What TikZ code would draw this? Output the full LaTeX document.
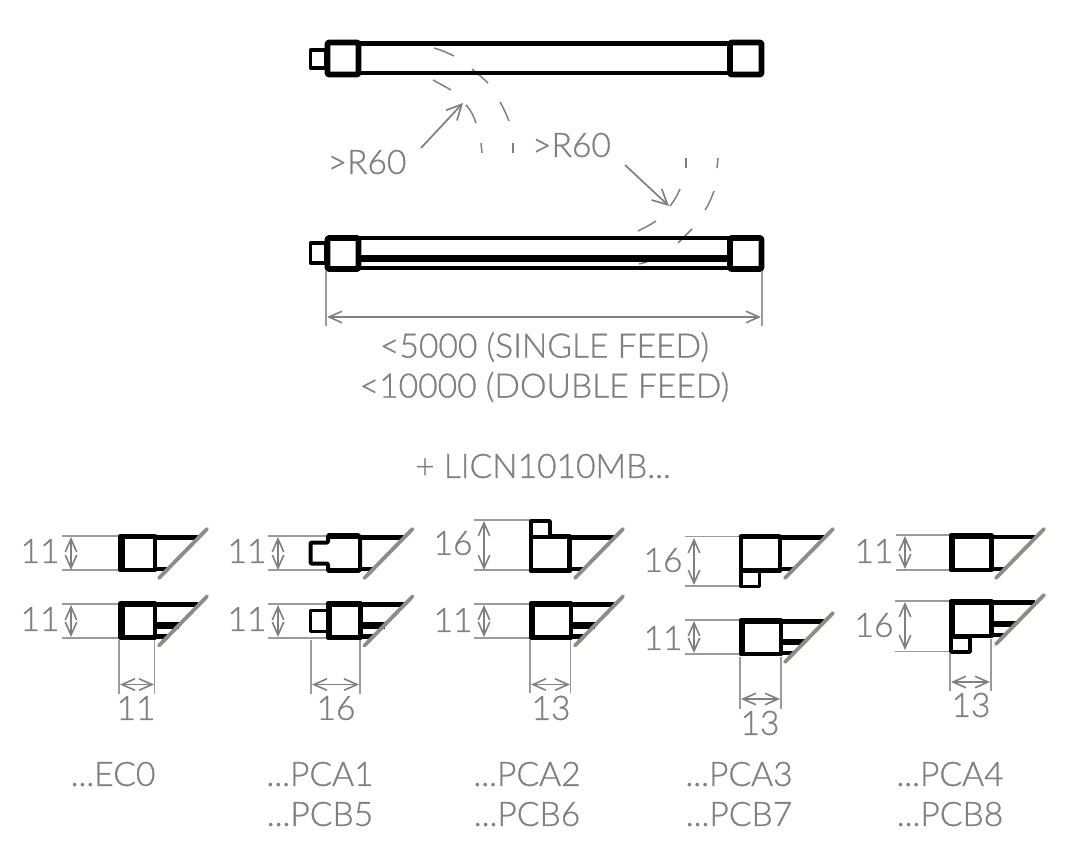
\documentclass[tikz,border=0pt]{standalone}
\usepackage{fontspec}
\setmainfont{Lato Light}[RawFeature={embolden=0.9}]
\usetikzlibrary{arrows.meta}
\definecolor{dimgray}{RGB}{128,128,128}
\definecolor{lightdim}{RGB}{155,155,155}
\definecolor{glass}{RGB}{143,139,133}
\tikzset{
  lbl/.style={text=dimgray,font=\fontsize{33.6}{33.6}\selectfont,inner sep=0pt,anchor=center},
  dimline/.style={draw=dimgray,line width=1.6pt,{Straight Barb[length=13pt,width=11.5pt,line width=1.6pt]}-{Straight Barb[length=13pt,width=11.5pt,line width=1.6pt]}},
  extline/.style={draw=lightdim,line width=1.7pt},
  leader/.style={draw=dimgray,line width=1.7pt,-{Straight Barb[length=15pt,width=15pt,line width=1.7pt]}},
  radius/.style={draw=dimgray,line width=1.5pt},
  prof/.style={draw=black,line width=4.4pt,line join=round,fill=white},
  heavy/.style={draw=black,line width=6.2pt,line cap=round},
  rail/.style={draw=black,line width=4.2pt},
  rib/.style={draw=black,line width=6.5pt},
  nub/.style={draw=black,line width=3.8pt,line join=round,fill=white},
  glassline/.style={draw=glass,line width=3.8pt,line cap=round}
}
% rails, rib and glass edge: R, T, B
\newcommand{\railset}[3]{%
  \draw[rail] (#1,{#2+1.5}) -- ({#1+43},{#2+1.5});
  \draw[rail] (#1,{#3-1}) -- ({#1+13},{#3-1});
}
\newcommand{\glassedge}[2]{%
  \draw[glassline] ({#1+4},{#2+8}) -- ({#1+52},{#2-41});
}
\newcommand{\ribset}[3]{%
  \draw[rib] (#1,{#3-12}) -- ({#1+24},{#3-12});
}
% profile box: L, T, R, B
\newcommand{\boxp}[4]{%
  \draw[prof] ({#1+1.5},{#2+1.5}) rectangle ({#3-1},{#4-1.5});
  \draw[heavy] ({#1+2.5},{#2+3}) -- ({#1+2.5},{#4-3});
  \draw[heavy,line width=5.4pt] ({#1+3},{#2+2}) -- ({#3-2.5},{#2+2});
}
\newcommand{\extpair}[4]{% x0, x1, T, B
  \draw[extline] (#1,#3) -- (#2,#3);
  \draw[extline] (#1,#4) -- (#2,#4);
}
\begin{document}
\begin{tikzpicture}[x=1pt,y=-1pt]
\useasboundingbox (0,0) rectangle (1065,867);

% ---- radius dashes (behind tubes)
\draw[radius] (434,48) .. controls (441,50) and (448,53) .. (454,56);
\draw[radius] (472,69) .. controls (478,74) and (484,79) .. (488,83);
\draw[radius] (500,102) .. controls (504,109) and (507,116) .. (509,121);
\draw[radius] (513,143) -- (513,153);
\draw[radius] (433,80) .. controls (440,84) and (446,87) .. (451,90);
\draw[radius] (466,105) .. controls (471,110) and (474,117) .. (476,123);
\draw[radius] (481,143) -- (482,153);
\draw[radius] (686,158) -- (686,168);
\draw[radius] (680,189) .. controls (677,196) and (674,201) .. (670,206);
\draw[radius] (656,221) .. controls (650,225) and (644,228) .. (638,231);
\draw[radius] (718,158) -- (717,168);
\draw[radius] (714,191) .. controls (711,199) and (708,206) .. (705,210);
\draw[radius] (692,229) .. controls (688,233) and (683,238) .. (678,243);
\draw[radius] (647,262) -- (639,264);

% ---- upper tube
\draw[rail,line width=4.5pt] (358,43.5) -- (730,43.5);
\draw[rail,line width=4.5pt] (358,73) -- (730,73);
\draw[nub] (310.5,50) rectangle (326,68);
\draw[prof,line width=5.6pt,rounded corners=1pt] (327.5,42.5) rectangle (358.5,74.5);
\draw[prof,line width=5.6pt,rounded corners=1pt] (730,42.5) rectangle (761.5,74.5);

% ---- lower tube
\draw[rail,line width=3.8pt] (358,238) -- (730,238);
\draw[rail,line width=3.8pt] (358,268) -- (730,268);
\draw[rib] (358,258.5) -- (730,258.5);
\draw[nub] (310.5,243) rectangle (326,263);
\draw[prof,line width=5.6pt,rounded corners=1pt] (327.5,238) rectangle (358.5,269);
\draw[prof,line width=5.6pt,rounded corners=1pt] (730,238) rectangle (761.5,269);

% ---- main dimension
\coordinate (mainL) at (326,271);
\coordinate (mainR) at (762,271);
\coordinate (mainLb) at (326,326);
\coordinate (mainRb) at (762,326);
\coordinate (mainA) at (327,317);
\coordinate (mainB) at (761,317);
\draw[extline] (mainL) -- (mainLb);
\draw[extline] (mainR) -- (mainRb);
\draw[dimline] (mainA) -- (mainB);

% ---- top labels
\node[lbl] (r1) at (367,162) {>R60};
\node[lbl] (r2) at (571.5,145) {>R60};
\coordinate (r1tip) at (463,103);
\coordinate (r1s) at (421,148);
\coordinate (r2tip) at (669,206);
\coordinate (r2s) at (625,165);
\draw[leader] (r1s) -- (r1tip);
\draw[leader] (r2s) -- (r2tip);
\node[lbl] (sf) at (544.5,347) {<5000 (SINGLE FEED)};
\node[lbl] (df) at (544.5,387) {<10000 (DOUBLE FEED)};
\node[lbl] (licn) at (543,466) {+ LICN1010MB...};

% ---- EC0
\extpair{62}{120}{536}{570}\extpair{62}{120}{604}{638}
\railset{155}{536}{570}\glassedge{155}{570}\boxp{119}{534.5}{156}{571.5}
\railset{155}{603}{637.5}\ribset{155}{603}{637.5}\glassedge{155}{637.5}\boxp{119}{602}{156}{639}
\draw[dimline] (71,537) -- (71,570);
\draw[dimline] (71,605) -- (71,637);
\draw[extline] (119,640) -- (119,694);
\draw[extline] (154.5,640) -- (154.5,694);
\draw[dimline] (120,684.5) -- (154,684.5);
\node[lbl] (a1) at (40,551) {11};
\node[lbl] (a2) at (40,619) {11};
\node[lbl] (a3) at (136,708) {11};
\node[lbl] (a4) at (113,774) {...EC0};

% ---- PCA1 / PCB5
\extpair{268}{327}{536}{570}\extpair{268}{327}{604}{638}
\railset{360.5}{536}{570}\glassedge{360.5}{570}
\draw[prof,line width=4pt,rounded corners=1pt] (360,536) -- (328,536) -- (328,542.5) -- (310.5,542.5) -- (310.5,563.5) -- (328,563.5) -- (328,570.5) -- (360,570.5) -- cycle;
\draw[heavy,line width=5.4pt] (329,536) -- (358,536);
\draw[heavy,line width=5.4pt] (329,570.5) -- (358,570.5);
\railset{360.5}{603}{637.5}\ribset{360.5}{603}{637.5}\glassedge{360.5}{637.5}
\draw[nub] (310.5,610.5) rectangle (328,631.5);
\boxp{326.5}{602}{361.5}{639}
\draw[dimline] (278,537) -- (278,570);
\draw[dimline] (278,605) -- (278,637);
\draw[extline] (311,640) -- (311,694);
\draw[extline] (360,640) -- (360,694);
\draw[dimline] (312,684.5) -- (359,684.5);
\node[lbl] (b1) at (247,551) {11};
\node[lbl] (b2) at (247,619) {11};
\node[lbl] (b3) at (336,708) {16};
\node[lbl] (b4) at (320,774) {...PCA1};
\node[lbl] (b5) at (320,814) {...PCB5};

% ---- PCA2 / PCB6
\extpair{474}{531}{520}{570}\extpair{474}{531}{604}{638}
\railset{571}{536}{570}\glassedge{571}{570}
\draw[nub] (531,521) rectangle (550,537);
\draw[prof] (531,537) rectangle (570,570.5);
\draw[heavy,line width=5pt] (531.5,570.5) -- (569,570.5);
\draw[heavy,line width=5.4pt] (552,536.5) -- (569,536.5);
\draw[heavy,line width=5.4pt] (569.5,537) -- (569.5,570);
\railset{571}{603}{637.5}\ribset{571}{603}{637.5}\glassedge{571}{637.5}\boxp{529.5}{602}{572}{639}
\draw[dimline] (484,521) -- (484,570);
\draw[dimline] (484,605) -- (484,637);
\draw[extline] (530,640) -- (530,693);
\draw[extline] (570.5,640) -- (570.5,693);
\draw[dimline] (531,684.5) -- (570,684.5);
\node[lbl] (c1) at (453,543) {16};
\node[lbl] (c2) at (453,620) {11};
\node[lbl] (c3) at (551,708) {13};
\node[lbl] (c4) at (527,774) {...PCA2};
\node[lbl] (c5) at (527,814) {...PCB6};

% ---- PCA3 / PCB7
\extpair{685}{741}{536.5}{586}\extpair{685}{741}{620}{654}
\railset{781}{536}{570}\glassedge{781}{570}
\draw[nub] (741,571) rectangle (759.5,586.5);
\draw[prof] (741,537) rectangle (780,570.5);
\draw[heavy,line width=5.4pt] (741.5,536.5) -- (779,536.5);
\draw[heavy,line width=5.4pt] (760,570.5) -- (779,570.5);
\railset{781}{620}{654}\ribset{781}{620}{654}\glassedge{781}{654}\boxp{739.5}{619}{782}{655.5}
\draw[dimline] (694,538) -- (694,585);
\draw[dimline] (694,621) -- (694,653);
\draw[extline] (740,657) -- (740,709);
\draw[extline] (781,657) -- (781,709);
\draw[dimline] (741,699) -- (780,699);
\node[lbl] (d1) at (663,560) {16};
\node[lbl] (d2) at (663,638) {11};
\node[lbl] (d3) at (760,723) {13};
\node[lbl] (d4) at (739,774) {...PCA3};
\node[lbl] (d5) at (739,814) {...PCB7};

% ---- PCA4 / PCB8
\extpair{896}{951}{535}{570}\extpair{895}{951}{601}{651.5}
\railset{992}{535.5}{570}\glassedge{992}{570}\boxp{949.5}{534}{992.5}{571.5}
\railset{992}{601}{636}\ribset{992}{601}{636}\glassedge{992}{636}
\draw[nub] (951,637) rectangle (970,652);
\boxp{949.5}{600}{992.5}{637.5}
\draw[dimline] (905,536) -- (905,569);
\draw[dimline] (905,602) -- (905,650);
\draw[extline] (950,653) -- (950,691);
\draw[extline] (991,639) -- (991,691);
\draw[dimline] (951,682) -- (990,682);
\node[lbl] (e1) at (874,551) {11};
\node[lbl] (e2) at (874,625) {16};
\node[lbl] (e3) at (971,705) {13};
\node[lbl] (e4) at (950,774) {...PCA4};
\node[lbl] (e5) at (950,814) {...PCB8};
\end{tikzpicture}
\end{document}
